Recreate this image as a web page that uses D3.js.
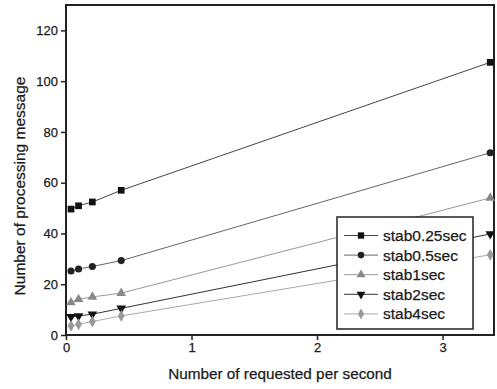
<!DOCTYPE html>
<html>
<head>
<meta charset="utf-8">
<script src="https://cdn.jsdelivr.net/npm/d3@7"></script>
<style>
  body { margin: 0; background: #fff; }
  text { font-family: "Liberation Sans", Arial, sans-serif; fill: #1a1a1a; stroke: #1a1a1a; stroke-width: 0.25px; }
</style>
</head>
<body>
<script>
// data
var rates = [0.04, 0.1, 0.21, 0.44, 3.38];
var seriesNames = ["stab0.25sec", "stab0.5sec", "stab1sec", "stab2sec", "stab4sec"];
var stab025 = [49.6, 50.9, 52.4, 57.0, 107.4];
var stab05 = [25.2, 26.0, 27.0, 29.3, 71.8];
var stab1 = [12.8, 14.1, 15.0, 16.5, 54.0];
var stab2 = [7.2, 7.5, 8.2, 10.5, 39.8];
var stab4 = [3.6, 4.2, 5.3, 7.5, 31.6];
var xTicks = [0, 1, 2, 3];
var yTicks = [0, 20, 40, 60, 80, 100, 120];

var allValues = [stab025, stab05, stab1, stab2, stab4];
var lineColors = ["#444", "#666", "#999", "#333", "#aaa"];
var markColors = ["#111", "#222", "#888", "#111", "#999"];
var shapes = [d3.symbolSquare, d3.symbolCircle, d3.symbolTriangle, d3.symbolTriangle, d3.symbolDiamond];

var margin = {top: 5, right: 3, bottom: 54, left: 66},
    width = 497 - margin.left - margin.right,
    height = 389 - margin.top - margin.bottom;

var svg = d3.select("body").append("svg")
    .attr("width", 497)
    .attr("height", 389)
  .append("g")
    .attr("transform", "translate(" + margin.left + "," + margin.top + ")");

var x = d3.scaleLinear().domain([0, 3.41]).range([0, width]);
var y = d3.scaleLinear().domain([0, 130]).range([height, 0]);

// axes
var xAxis = svg.append("g")
    .attr("transform", "translate(0," + height + ")")
    .call(d3.axisBottom(x).tickValues(xTicks).tickSize(5).tickPadding(3).tickFormat(d3.format("d")));
var yAxis = svg.append("g")
    .call(d3.axisLeft(y).tickValues(yTicks).tickSize(5).tickPadding(3));

[xAxis, yAxis].forEach(function(a) {
  a.select(".domain").remove();
  a.selectAll(".tick line").attr("stroke", "#222").attr("stroke-width", 1.5);
  a.selectAll(".tick text").style("font-size", "13px").attr("fill", "#1a1a1a");
});

// frame
svg.append("rect")
    .attr("width", width)
    .attr("height", height)
    .attr("fill", "none")
    .attr("stroke", "#222")
    .attr("stroke-width", 2);

var line = d3.line()
    .x(function(d, i) { return x(rates[i]); })
    .y(function(d) { return y(d); });

allValues.forEach(function(vals, s) {
  svg.append("path")
      .datum(vals)
      .attr("fill", "none")
      .attr("stroke", lineColors[s])
      .attr("stroke-width", 1)
      .attr("d", line);

  svg.selectAll(".mk" + s)
      .data(vals)
      .enter()
      .append("path")
      .attr("class", "mk" + s)
      .attr("d", d3.symbol().type(shapes[s]).size(s === 0 ? 45 : 40))
      .attr("fill", markColors[s])
      .attr("transform", function(d, i) {
        var rot = s === 3 ? " rotate(180)" : "";
        return "translate(" + x(rates[i]) + "," + y(d) + ")" + rot;
      });
});

// legend
var lg = svg.append("g").attr("transform", "translate(" + (337 - margin.left) + "," + (217 - margin.top) + ")");
lg.append("rect")
    .attr("width", 136)
    .attr("height", 112)
    .attr("fill", "#fff")
    .attr("stroke", "#222")
    .attr("stroke-width", 1.5);

seriesNames.forEach(function(name, s) {
  var ry = 18.5 + s * 19.6;
  lg.append("line")
      .attr("x1", 7).attr("x2", 41)
      .attr("y1", ry).attr("y2", ry)
      .attr("stroke", lineColors[s]);
  lg.append("path")
      .attr("d", d3.symbol().type(shapes[s]).size(s === 0 ? 40 : 34))
      .attr("fill", markColors[s])
      .attr("transform", "translate(24," + ry + ")" + (s === 3 ? " rotate(180)" : ""));
  lg.append("text")
      .attr("x", 46)
      .attr("y", ry)
      .attr("dy", "0.35em")
      .style("font-size", "15.5px")
      .text(name);
});

// axis titles
svg.append("text")
    .attr("x", 280 - margin.left)
    .attr("y", 379 - margin.top)
    .attr("text-anchor", "middle")
    .style("font-size", "15.3px")
    .text("Number of requested per second");

svg.append("text")
    .attr("transform", "rotate(-90)")
    .attr("x", -(186 - margin.top))
    .attr("y", 25 - margin.left)
    .attr("text-anchor", "middle")
    .style("font-size", "15.5px")
    .text("Number of processing message");
</script>
</body>
</html>
